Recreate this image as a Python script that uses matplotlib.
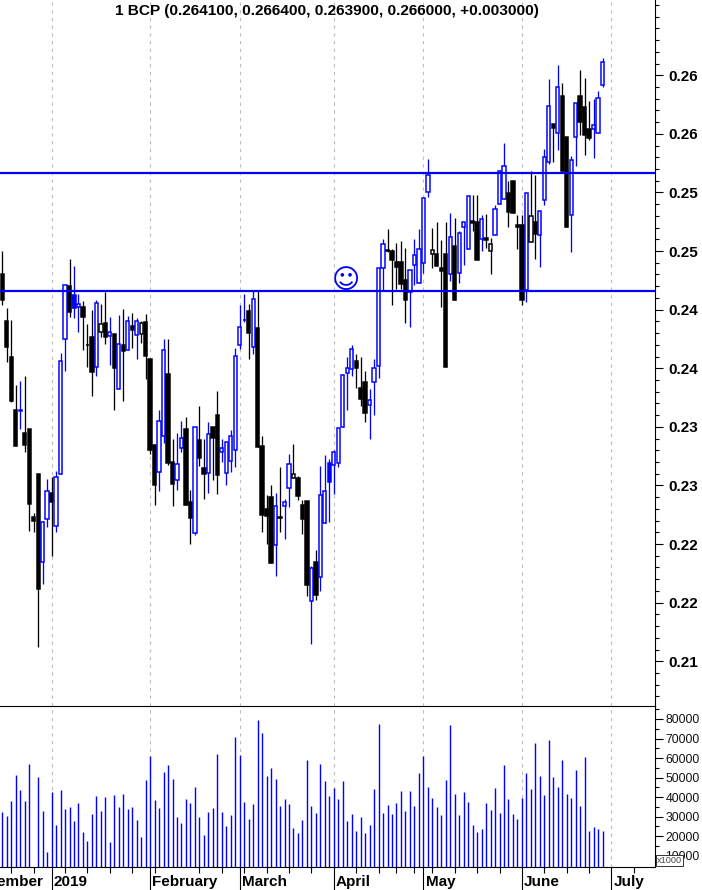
import matplotlib
matplotlib.use("Agg")
import matplotlib.pyplot as plt
from matplotlib.ticker import FixedLocator, FixedFormatter, NullFormatter

plt.rcParams['font.family'] = ['Liberation Sans', 'DejaVu Sans']

title = "1 BCP (0.264100, 0.266400, 0.263900, 0.266000, +0.003000)"

opens = [0.24794,0.24393,0.24086,0.23634,0.23628,0.23437,0.23471,0.22718,0.23087,0.22339,0.22701,0.22925,0.22641,0.23085,0.24237,
    0.24691,0.24615,0.24510,0.24512,0.24188,0.24256,0.23998,0.24296,0.24373,0.24262,0.24282,0.23810,0.24188,0.24143,0.24350,
    0.24276,0.24285,0.24384,0.24069,0.23335,0.23107,0.23414,0.23941,0.23190,0.23034,0.23307,0.23471,0.22849,0.22584,0.23378,
    0.23139,0.23093,0.23488,0.23591,0.23273,0.23093,0.23196,0.23290,0.24191,0.24401,0.24478,0.24174,0.24331,0.23326,0.22786,
    0.22891,0.22484,0.22718,0.22817,0.22971,0.23051,0.23053,0.22823,0.22857,0.22001,0.22334,0.22206,0.22667,0.23181,0.23167,
    0.23184,0.23486,0.23947,0.23986,0.24052,0.23821,0.23872,0.23674,0.23875,0.24009,0.24848,0.24996,0.24990,0.24896,0.24896,
    0.24743,0.24638,0.24868,0.24720,0.24885,0.25491,0.24967,0.24964,0.24845,0.24964,0.24796,0.25033,0.24800,0.25192,0.25010,
    0.25246,0.25240,0.25095,0.25101,0.24993,0.25124,0.25389,0.25431,0.25485,0.25587,0.25212,0.25212,0.24660,0.25064,0.25235,
    0.25129,0.25423,0.25747,0.26074,0.25994,0.26313,0.25960,0.25295,0.25960,0.26313,0.26219,0.26031,0.26028,0.25994,0.26410]
highs = [0.24990,0.24501,0.24401,0.23847,0.23881,0.23924,0.23471,0.22755,0.23087,0.22686,0.23045,0.23062,0.23113,0.24117,0.24700,
    0.24922,0.24862,0.24623,0.24564,0.24367,0.24487,0.24572,0.24538,0.24640,0.24427,0.24282,0.24444,0.24495,0.24436,0.24461,
    0.24418,0.24393,0.24453,0.24069,0.23335,0.23634,0.24239,0.24239,0.23386,0.23437,0.23540,0.23574,0.22951,0.23488,0.23668,
    0.23386,0.23531,0.23488,0.23796,0.23386,0.23360,0.23463,0.24163,0.24529,0.24623,0.24538,0.24651,0.24649,0.23412,0.22908,
    0.22994,0.22925,0.23147,0.22877,0.23258,0.23343,0.23070,0.22866,0.22857,0.22303,0.22439,0.23156,0.23250,0.23215,0.23292,
    0.23480,0.23941,0.24086,0.24188,0.24111,0.24086,0.23966,0.23813,0.24069,0.24845,0.25092,0.25178,0.25007,0.25058,0.25075,
    0.25016,0.24828,0.25092,0.25178,0.25442,0.25775,0.25186,0.25237,0.25084,0.25240,0.25314,0.25272,0.25161,0.25237,0.25459,
    0.25468,0.25468,0.25297,0.25306,0.25101,0.25383,0.25673,0.25912,0.25587,0.25587,0.25297,0.25297,0.25487,0.25673,0.25638,
    0.25331,0.25860,0.26458,0.26074,0.26577,0.26423,0.25960,0.25801,0.26253,0.26534,0.26466,0.26270,0.26287,0.26355,0.26640]
lows = [0.24529,0.24046,0.23699,0.23326,0.23471,0.23278,0.22601,0.22595,0.21614,0.22152,0.22635,0.22388,0.22593,0.23085,0.23969,
    0.24427,0.24418,0.24299,0.24145,0.24000,0.23753,0.23924,0.24256,0.24197,0.24017,0.23634,0.23810,0.23710,0.24143,0.24163,
    0.24069,0.24205,0.23898,0.23258,0.22823,0.22942,0.23352,0.23164,0.22814,0.22951,0.23275,0.22823,0.22490,0.22567,0.23156,
    0.22874,0.22925,0.23036,0.22917,0.23190,0.22994,0.23105,0.23147,0.24154,0.24384,0.24071,0.24114,0.23318,0.22595,0.22490,
    0.22331,0.22220,0.22593,0.22535,0.22806,0.23051,0.22866,0.22575,0.22049,0.21640,0.22012,0.22092,0.22667,0.22678,0.22917,
    0.23147,0.23486,0.23634,0.23924,0.23821,0.23668,0.23531,0.23386,0.23591,0.23906,0.24651,0.24981,0.24529,0.24666,0.24666,
    0.24378,0.24344,0.24700,0.24717,0.24802,0.25448,0.24845,0.24862,0.24515,0.24003,0.24734,0.24572,0.24717,0.24871,0.25010,
    0.25163,0.24913,0.24990,0.25016,0.24794,0.25124,0.25389,0.25431,0.25197,0.25317,0.25007,0.24529,0.24558,0.25064,0.24922,
    0.24856,0.25383,0.25730,0.25749,0.25852,0.25675,0.25197,0.24982,0.25718,0.25980,0.25809,0.25937,0.25784,0.25994,0.26390]
closes = [0.24572,0.24174,0.23710,0.23326,0.23634,0.23335,0.22829,0.22686,0.22106,0.22678,0.22942,0.22849,0.23059,0.24049,0.24697,
    0.24470,0.24506,0.24538,0.24427,0.24186,0.23958,0.24544,0.24365,0.24256,0.24296,0.23992,0.24194,0.24137,0.24390,0.24316,
    0.24390,0.24378,0.24094,0.23292,0.22994,0.23537,0.24143,0.23181,0.23002,0.23173,0.23395,0.22823,0.22712,0.23488,0.23224,
    0.23087,0.23426,0.23395,0.23079,0.23309,0.23358,0.23414,0.24092,0.24339,0.24404,0.24293,0.24578,0.23320,0.22740,0.22729,
    0.22331,0.22814,0.22716,0.22851,0.23170,0.23090,0.22900,0.22706,0.22143,0.22283,0.22058,0.22906,0.22940,0.23022,0.23273,
    0.23477,0.23930,0.23989,0.24151,0.23992,0.23727,0.23610,0.23721,0.23989,0.24842,0.25047,0.24993,0.24913,0.24854,0.24709,
    0.24572,0.24825,0.24953,0.25005,0.25440,0.25636,0.24996,0.24862,0.24822,0.24003,0.25107,0.24572,0.25141,0.25235,0.25457,
    0.25232,0.24913,0.25266,0.25084,0.25052,0.25346,0.25670,0.25713,0.25325,0.25317,0.25197,0.24572,0.25482,0.25291,0.25135,
    0.25329,0.25790,0.26225,0.26040,0.26387,0.25675,0.25197,0.25764,0.26250,0.26093,0.25980,0.25957,0.26063,0.26293,0.26600]
volumes = [32600,30500,38200,51500,43800,38200,57200,0,50500,33100,12050,42800,25900,43800,34100,35100,27900,37200,22300,17700,
    31500,40800,33100,40300,17200,41300,35100,41800,34100,35100,28500,19700,49000,61300,38700,34600,53100,56700,49500,30000,
    26900,39200,37200,45400,30000,20800,32600,34600,62300,32600,25400,31000,71000,61800,37700,29000,36700,79700,72600,51000,
    55100,49500,35600,39200,36700,24400,21800,28500,59200,35600,32100,57200,48000,40800,44900,39200,48500,27900,31500,22800,
    30000,21800,25900,44400,77200,32100,36200,31500,37200,43300,33100,43300,35600,52600,61300,45400,39700,35100,31000,49000,
    76700,41800,31000,42800,37700,25900,22300,23800,37200,33600,44900,32100,56200,39200,31500,29000,39700,52600,44400,67900,
    51000,41300,69000,50500,45400,59200,41800,39700,54100,35600,60300,22800,24900,23800,22800]

month_names = ["December", "2019", "February", "March", "April", "May", "June", "July"]
month_bars = [-8, 11, 33, 53, 74, 94, 116, 136]
week_bars = [2, 7, 14, 19, 24, 29, 34, 44, 49, 54, 59, 64, 69, 79, 84, 88, 92, 96, 101, 106, 111, 121, 126, 131, 141]

support_levels = [0.25655, 0.24651]
smiley_bar = 76.6
smiley_price = 0.24735

price_ticks = [0.2649, 0.2599, 0.2549, 0.2499, 0.2449, 0.2399, 0.2349, 0.2299, 0.2249, 0.2199, 0.2149]
price_labels = ["0.26", "0.26", "0.25", "0.25", "0.24", "0.24", "0.23", "0.23", "0.22", "0.22", "0.21"]
price_minor = [0.2709, 0.2699, 0.2689, 0.2679, 0.2669, 0.2659, 0.2639, 0.2629, 0.2619, 0.2609, 0.2589, 0.2579, 0.2569, 0.2559,
    0.2539, 0.2529, 0.2519, 0.2509, 0.2489, 0.2479, 0.2469, 0.2459, 0.2439, 0.2429, 0.2419, 0.2409, 0.2389, 0.2379, 0.2369,
    0.2359, 0.2339, 0.2329, 0.2319, 0.2309, 0.2289, 0.2279, 0.2269, 0.2259, 0.2239, 0.2229, 0.2219, 0.2209, 0.2189, 0.2179,
    0.2169, 0.2159, 0.2139, 0.2129, 0.2119]
vol_ticks = [10000, 20000, 30000, 40000, 50000, 60000, 70000, 80000]
vol_minor = [5000, 15000, 25000, 35000, 45000, 55000, 65000, 75000, 85000]

BLUE = "#0000ff"
GRID = "#bdbdbd"
PX = 0.72  # one pixel in points at dpi 100

fig = plt.figure(figsize=(7.02, 8.90), dpi=100)
ax = fig.add_axes([0, 184 / 890, 654.5 / 702, 706 / 890])
ax_vol = fig.add_axes([0, 23 / 890, 654.5 / 702, 161 / 890], sharex=ax)

ax.set_xlim(-0.52, 145.6)
ax.set_ylim(0.21108, 0.27132)
ax_vol.set_ylim(4226, 86650)

# month lines in both panels
for bar in month_bars[1:]:
    ax.axvline(bar, color=GRID, lw=PX * 1.1, ls=(0, (3, 4)), zorder=1)
    ax_vol.axvline(bar, color=GRID, lw=PX * 1.1, ls=(0, (3, 4)), zorder=1)

# candles, colour from previous close, fill from open/close
for i in range(len(opens)):
    up = i > 0 and closes[i] > closes[i - 1]
    col = BLUE if up else "black"
    ax.vlines(i, lows[i], highs[i], color=col, lw=PX * 1.3, zorder=2)
    face = col if closes[i] < opens[i] else "white"
    ax.bar(i, abs(closes[i] - opens[i]), bottom=min(opens[i], closes[i]), width=0.74,
           facecolor=face, edgecolor=col, linewidth=PX * 1.5, zorder=2)

for level in support_levels:
    ax.axhline(level, color=BLUE, lw=PX * 2.2, zorder=3)

ax.text(smiley_bar, smiley_price, "\u263a", color=BLUE, fontsize=19.5, ha="center", va="center",
        family="DejaVu Sans", zorder=4)
ax.text(0.5, 0.9840, title, transform=ax.transAxes, ha="center", va="center", fontsize=11.05, fontweight="bold")

ax_vol.vlines(range(len(volumes)), 0, volumes, color=BLUE, lw=PX * 1.4, zorder=2)

for a in (ax, ax_vol):
    a.spines["left"].set_visible(False)
    a.yaxis.tick_right()
    a.set_facecolor("white")
    a.tick_params(axis="x", which="both", bottom=False, labelbottom=False)
ax.spines["top"].set_visible(False)
ax.spines["bottom"].set_visible(False)

ax.yaxis.set_major_locator(FixedLocator(price_ticks))
ax.yaxis.set_major_formatter(FixedFormatter(price_labels))
ax.yaxis.set_minor_locator(FixedLocator(price_minor))
ax.tick_params(axis="y", which="major", length=5.8, width=0.8, pad=4.5, labelsize=11)
ax.tick_params(axis="y", which="minor", length=3, width=0.8)
for lab in ax.get_yticklabels():
    lab.set_fontweight("bold")

ax_vol.yaxis.set_major_locator(FixedLocator(vol_ticks))
ax_vol.yaxis.set_major_formatter(FixedFormatter([str(v) for v in vol_ticks]))
ax_vol.yaxis.set_minor_locator(FixedLocator(vol_minor))
ax_vol.yaxis.set_minor_formatter(NullFormatter())
ax_vol.tick_params(axis="y", which="major", length=5.8, width=0.8, pad=2, labelsize=8.8, labelcolor="#111111")
ax_vol.tick_params(axis="y", which="minor", length=3, width=0.8)

ax_vol.xaxis.set_major_locator(FixedLocator(month_bars[1:]))
ax_vol.xaxis.set_minor_locator(FixedLocator(week_bars))
ax_vol.tick_params(axis="x", which="major", bottom=True, labelbottom=False, length=16.5, width=0.8)
ax_vol.tick_params(axis="x", which="minor", bottom=True, length=4.3, width=0.8)

for name, bar in zip(month_names, month_bars):
    ax_vol.annotate(name, (bar, 0), xycoords=ax_vol.get_xaxis_transform(), xytext=(1.6, -10.6),
                    textcoords="offset points", ha="left", va="center", fontsize=11, fontweight="bold",
                    annotation_clip=False)

# the scale box that sits over the 10000 label
fig.text(669.5 / 702, 1 - 860.5 / 890, "x1000", ha="center", va="center", fontsize=6.6, color="#444444",
         bbox=dict(boxstyle="square,pad=0.15", facecolor="white", edgecolor="#333333", linewidth=0.7), zorder=10)

fig.savefig("out.png", dpi=100)
